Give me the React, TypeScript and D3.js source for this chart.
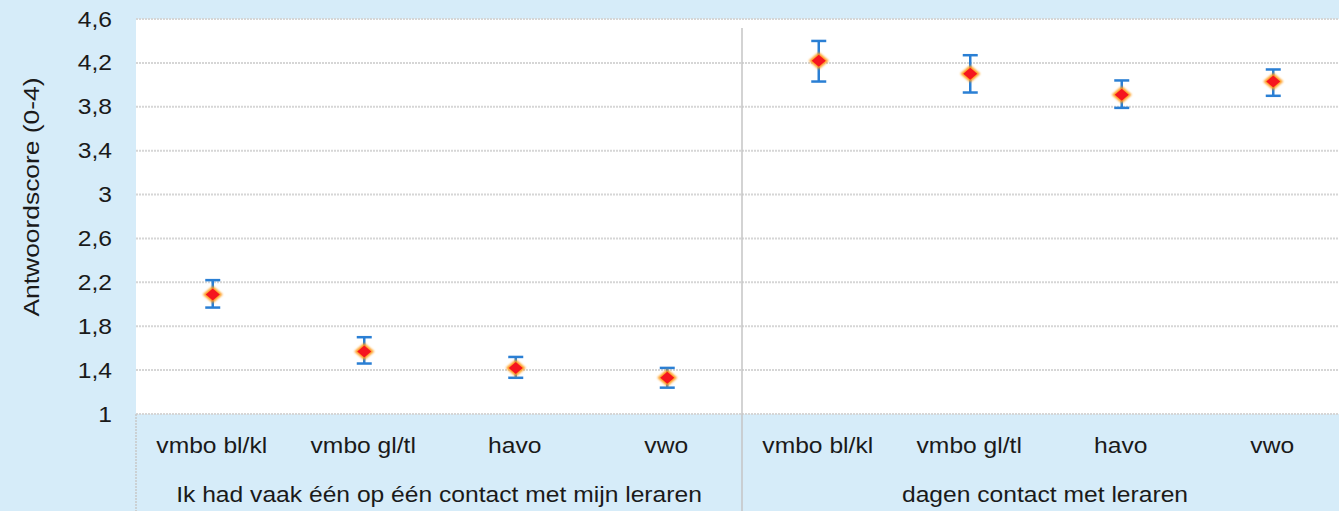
import React from "react";
import * as d3 from "d3";

const groups = ["Ik had vaak één op één contact met mijn leraren", "dagen contact met leraren"];
const categories = ["vmbo bl/kl", "vmbo gl/tl", "havo", "vwo"];
const means = [2.09, 1.57, 1.42, 1.33, 4.22, 4.10, 3.91, 4.03];
const lower = [1.97, 1.46, 1.33, 1.24, 4.03, 3.93, 3.79, 3.90];
const upper = [2.22, 1.70, 1.52, 1.42, 4.40, 4.27, 4.04, 4.14];
const yTicks = [1, 1.4, 1.8, 2.2, 2.6, 3, 3.4, 3.8, 4.2, 4.6];

export default function App() {
  document.body.style.margin = "0";
  const W = 1339, H = 511;
  const left = 136, right = 1348, top = 19, bottom = 414;
  const bg = "#d6ecf9";
  const keys = d3.range(8).map(String);
  const x = d3.scaleBand().domain(keys).range([left, right]);
  const y = d3.scaleLinear().domain([1, 4.6]).range([bottom, top]);
  const fmt = (v: number) => String(v).replace(".", ",");
  const font = "'Liberation Sans', Arial, sans-serif";
  const mid = x("4")!;
  const cap = 7.5;
  const rx = 10, ry = 8.5;
  const sx = 1.12;
  const fs = 22;
  const T = (px: number, py: number, s: string, anchor: string, key?: string) => (
    <text key={key} transform={`translate(${px},${py}) scale(${sx},1)`} textAnchor={anchor} fontSize={fs} fill="#1a1a1a">{s}</text>
  );
  return (
    <svg width={W} height={H} style={{ display: "block" }} fontFamily={font}>
      <defs>
        <filter id="glow" x="-50%" y="-50%" width="200%" height="200%">
          <feGaussianBlur stdDeviation="0.9" />
        </filter>
      </defs>
      <rect x={0} y={0} width={W} height={H} fill={bg} />
      <rect x={left} y={top} width={W - left} height={bottom - top} fill="#ffffff" />
      {yTicks.map((t) => (
        <g key={t}>
          <line x1={left} x2={W} y1={y(t)} y2={y(t)} stroke="#d6d6d6" strokeWidth={2} strokeDasharray="2,1" />
          {T(112, y(t) + 7.5, fmt(t), "end")}
        </g>
      ))}
      <line x1={left} x2={left} y1={bottom} y2={H} stroke="#c8c8c8" strokeWidth={1.5} strokeDasharray="2,1" />
      <line x1={mid} x2={mid} y1={28} y2={H} stroke="#c4c4c4" strokeWidth={1.5} />
      <text transform={`translate(39,197) rotate(-90) scale(1.2,1)`} textAnchor="middle" fontSize={fs} fill="#1a1a1a">Antwoordscore (0-4)</text>
      {keys.map((k, i) => T(x(k)! + x.bandwidth() / 2, 453, categories[i % 4], "middle", "c" + k))}
      {groups.map((g, gi) => {
        const x0 = x(String(gi * 4))!;
        const x1 = x0 + x.bandwidth() * 4;
        return T((x0 + x1) / 2, 502, g, "middle", g);
      })}
      {keys.map((k, i) => {
        const cx = x(k)! + x.bandwidth() / 2 + 1;
        const cy = y(means[i]);
        const d = `M${cx},${cy - ry} L${cx + rx},${cy} L${cx},${cy + ry} L${cx - rx},${cy} Z`;
        const d2 = `M${cx},${cy - ry + 2.5} L${cx + rx - 3},${cy} L${cx},${cy + ry - 2.5} L${cx - rx + 3},${cy} Z`;
        return (
          <g key={"p" + k}>
            <line x1={cx} x2={cx} y1={y(upper[i])} y2={y(lower[i])} stroke="#2a7fd4" strokeWidth={2.5} />
            <line x1={cx - cap} x2={cx + cap} y1={y(upper[i])} y2={y(upper[i])} stroke="#2a7fd4" strokeWidth={2.5} />
            <line x1={cx - cap} x2={cx + cap} y1={y(lower[i])} y2={y(lower[i])} stroke="#2a7fd4" strokeWidth={2.5} />
            <path d={d} fill="#ff9a1a" filter="url(#glow)" />
            <path d={d2} fill="#f5151f" />
          </g>
        );
      })}
    </svg>
  );
}
